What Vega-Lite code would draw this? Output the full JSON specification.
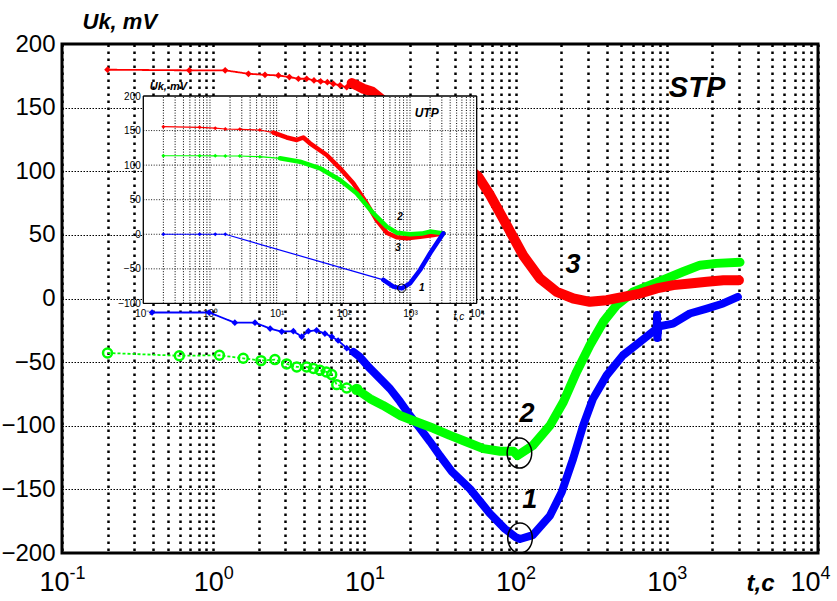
{
  "$schema": "https://vega.github.io/schema/vega-lite/v6.json",
  "width": 756,
  "height": 509,
  "autosize": "none",
  "padding": {"left": 62, "top": 44, "right": 19, "bottom": 48},
  "background": "white",
  "config": {
    "view": {"stroke": "black", "strokeWidth": 3},
    "font": "Liberation Sans",
    "axis": {"labelFont": "Liberation Sans", "titleFont": "Liberation Sans", "labelColor": "black", "titleColor": "black", "domain": false, "ticks": false}
  },
  "datasets": {
    "main": [
      {"s": "1", "t": 0.394, "v": -11}, {"s": "1", "t": 0.94, "v": -11}, {"s": "1", "t": 1.39, "v": -19}, {"s": "1", "t": 1.89, "v": -19},
      {"s": "1", "t": 2.38, "v": -23.6}, {"s": "1", "t": 2.84, "v": -26}, {"s": "1", "t": 3.39, "v": -25.7}, {"s": "1", "t": 3.85, "v": -30},
      {"s": "1", "t": 4.26, "v": -25.7}, {"s": "1", "t": 4.83, "v": -25}, {"s": "1", "t": 5.48, "v": -27.6}, {"s": "1", "t": 6.08, "v": -30},
      {"s": "1", "t": 6.7, "v": -33}, {"s": "1", "t": 7.64, "v": -39}, {"s": "1", "t": 8.45, "v": -42}, {"s": "1", "t": 9.35, "v": -46},
      {"s": "1", "t": 10.6, "v": -53.5}, {"s": "1", "t": 12.7, "v": -63}, {"s": "1", "t": 14.8, "v": -71}, {"s": "1", "t": 17.2, "v": -81},
      {"s": "1", "t": 20, "v": -92}, {"s": "1", "t": 23.3, "v": -102}, {"s": "1", "t": 27.2, "v": -112.6}, {"s": "1", "t": 31.6, "v": -123.6},
      {"s": "1", "t": 37.9, "v": -136}, {"s": "1", "t": 49.9, "v": -149.6}, {"s": "1", "t": 67.6, "v": -169}, {"s": "1", "t": 85, "v": -181},
      {"s": "1", "t": 100, "v": -187.5}, {"s": "1", "t": 107, "v": -189}, {"s": "1", "t": 130, "v": -186}, {"s": "1", "t": 169, "v": -170.6},
      {"s": "1", "t": 202, "v": -152}, {"s": "1", "t": 240, "v": -126}, {"s": "1", "t": 280, "v": -99.7}, {"s": "1", "t": 325, "v": -78.7},
      {"s": "1", "t": 400, "v": -60.4}, {"s": "1", "t": 513, "v": -44.6}, {"s": "1", "t": 665, "v": -34}, {"s": "1", "t": 857, "v": -23.6},
      {"s": "1", "t": 862, "v": -13}, {"s": "1", "t": 866, "v": -31}, {"s": "1", "t": 880, "v": -22}, {"s": "1", "t": 1100, "v": -19.7},
      {"s": "1", "t": 1420, "v": -11.8}, {"s": "1", "t": 1840, "v": -7.9}, {"s": "1", "t": 2360, "v": -3.9}, {"s": "1", "t": 2950, "v": 1.3},

      {"s": "2", "t": 0.2, "v": -42.8}, {"s": "2", "t": 0.597, "v": -45}, {"s": "2", "t": 1.1, "v": -44.6}, {"s": "2", "t": 1.58, "v": -47},
      {"s": "2", "t": 2.07, "v": -48.8}, {"s": "2", "t": 2.56, "v": -48}, {"s": "2", "t": 3.06, "v": -51.4}, {"s": "2", "t": 3.57, "v": -53.8},
      {"s": "2", "t": 4.15, "v": -53.8}, {"s": "2", "t": 4.6, "v": -55}, {"s": "2", "t": 5.08, "v": -56.4}, {"s": "2", "t": 5.6, "v": -57.7},
      {"s": "2", "t": 6.08, "v": -59.8}, {"s": "2", "t": 6.56, "v": -67.7}, {"s": "2", "t": 7.64, "v": -70.3}, {"s": "2", "t": 8.9, "v": -71.4},
      {"s": "2", "t": 10.9, "v": -78.7}, {"s": "2", "t": 13.3, "v": -84}, {"s": "2", "t": 17.2, "v": -91.9}, {"s": "2", "t": 22.2, "v": -97},
      {"s": "2", "t": 28.6, "v": -102}, {"s": "2", "t": 36.8, "v": -107.6}, {"s": "2", "t": 47.5, "v": -112.8}, {"s": "2", "t": 61.2, "v": -118},
      {"s": "2", "t": 78.9, "v": -120}, {"s": "2", "t": 96.6, "v": -120}, {"s": "2", "t": 103, "v": -123.4}, {"s": "2", "t": 130, "v": -115.5},
      {"s": "2", "t": 169, "v": -99.7}, {"s": "2", "t": 207, "v": -81.3}, {"s": "2", "t": 253, "v": -57.7}, {"s": "2", "t": 310, "v": -36.8},
      {"s": "2", "t": 380, "v": -18.4}, {"s": "2", "t": 466, "v": -5.2}, {"s": "2", "t": 600, "v": 5.2}, {"s": "2", "t": 774, "v": 10.5},
      {"s": "2", "t": 998, "v": 15.7}, {"s": "2", "t": 1280, "v": 21}, {"s": "2", "t": 1660, "v": 26.2}, {"s": "2", "t": 2130, "v": 27.6},
      {"s": "2", "t": 3050, "v": 28.5},

      {"s": "3", "t": 0.2, "v": 179.8}, {"s": "3", "t": 0.695, "v": 179.3}, {"s": "3", "t": 1.2, "v": 179.3}, {"s": "3", "t": 1.71, "v": 176.6},
      {"s": "3", "t": 2.2, "v": 175.8}, {"s": "3", "t": 2.7, "v": 175.3}, {"s": "3", "t": 3.19, "v": 174}, {"s": "3", "t": 3.66, "v": 172.7},
      {"s": "3", "t": 4.15, "v": 172.7}, {"s": "3", "t": 4.64, "v": 171.4}, {"s": "3", "t": 5.14, "v": 170.6}, {"s": "3", "t": 5.69, "v": 170},
      {"s": "3", "t": 6.23, "v": 168.7}, {"s": "3", "t": 6.9, "v": 167.5}, {"s": "3", "t": 7.64, "v": 166}, {"s": "3", "t": 8.24, "v": 169.3},
      {"s": "3", "t": 8.9, "v": 167.5}, {"s": "3", "t": 9.84, "v": 164.8}, {"s": "3", "t": 11.2, "v": 162.7},
      {"s": "3", "t": 56.6, "v": 95.8}, {"s": "3", "t": 67.8, "v": 81.3}, {"s": "3", "t": 87.3, "v": 57.7}, {"s": "3", "t": 112, "v": 34},
      {"s": "3", "t": 145, "v": 15.7}, {"s": "3", "t": 187, "v": 5.2}, {"s": "3", "t": 241, "v": 0}, {"s": "3", "t": 310, "v": -2.6},
      {"s": "3", "t": 400, "v": -1.3}, {"s": "3", "t": 515, "v": 1.3}, {"s": "3", "t": 665, "v": 3.9}, {"s": "3", "t": 857, "v": 7.9},
      {"s": "3", "t": 1105, "v": 10.5}, {"s": "3", "t": 1420, "v": 11.8}, {"s": "3", "t": 1840, "v": 13.1}, {"s": "3", "t": 2370, "v": 14.4},
      {"s": "3", "t": 3000, "v": 14.4}
    ],
    "inset": [
      {"s": "3", "t": 0.2, "v": 155.6}, {"s": "3", "t": 0.7, "v": 154.7}, {"s": "3", "t": 1.2, "v": 153.5}, {"s": "3", "t": 1.7, "v": 152.3},
      {"s": "3", "t": 2.8, "v": 151.8}, {"s": "3", "t": 5.6, "v": 150.8}, {"s": "3", "t": 8.9, "v": 147}, {"s": "3", "t": 14.1, "v": 140},
      {"s": "3", "t": 20, "v": 136.4}, {"s": "3", "t": 25.1, "v": 140}, {"s": "3", "t": 31.6, "v": 131.6}, {"s": "3", "t": 56.3, "v": 114.7},
      {"s": "3", "t": 89.1, "v": 95.4}, {"s": "3", "t": 141, "v": 73.7}, {"s": "3", "t": 224, "v": 44.8}, {"s": "3", "t": 316, "v": 20.6},
      {"s": "3", "t": 447, "v": 2.3}, {"s": "3", "t": 631, "v": -4.4}, {"s": "3", "t": 893, "v": -5.8}, {"s": "3", "t": 1413, "v": -3.5},
      {"s": "3", "t": 2239, "v": -1.1}, {"s": "3", "t": 3162, "v": 1.3},

      {"s": "2", "t": 0.2, "v": 113.6}, {"s": "2", "t": 0.7, "v": 113.6}, {"s": "2", "t": 1.2, "v": 113.4}, {"s": "2", "t": 1.7, "v": 113.2},
      {"s": "2", "t": 2.8, "v": 113.2}, {"s": "2", "t": 5.6, "v": 112.2}, {"s": "2", "t": 11.2, "v": 109.9}, {"s": "2", "t": 22.4, "v": 105},
      {"s": "2", "t": 44.7, "v": 95.4}, {"s": "2", "t": 89.1, "v": 78.5}, {"s": "2", "t": 158, "v": 59.3}, {"s": "2", "t": 282, "v": 30.3},
      {"s": "2", "t": 447, "v": 11}, {"s": "2", "t": 631, "v": 2.3}, {"s": "2", "t": 1000, "v": 0}, {"s": "2", "t": 1500, "v": 1},
      {"s": "2", "t": 2000, "v": 3.9}, {"s": "2", "t": 3162, "v": 1.3},

      {"s": "1", "t": 0.2, "v": 0}, {"s": "1", "t": 0.7, "v": 0}, {"s": "1", "t": 1.2, "v": 0}, {"s": "1", "t": 1.7, "v": 0},
      {"s": "1", "t": 398, "v": -66}, {"s": "1", "t": 562, "v": -75.8}, {"s": "1", "t": 751, "v": -78.3}, {"s": "1", "t": 1000, "v": -71},
      {"s": "1", "t": 1413, "v": -51.7}, {"s": "1", "t": 2000, "v": -27.5}, {"s": "1", "t": 3162, "v": 1.4}
    ],
    "igx": [
      {"g": 0.2}, {"g": 0.3}, {"g": 0.4}, {"g": 0.5}, {"g": 0.6}, {"g": 0.7}, {"g": 0.8}, {"g": 0.9}, {"g": 1},
      {"g": 2}, {"g": 3}, {"g": 4}, {"g": 5}, {"g": 6}, {"g": 7}, {"g": 8}, {"g": 9}, {"g": 10},
      {"g": 20}, {"g": 30}, {"g": 40}, {"g": 50}, {"g": 60}, {"g": 70}, {"g": 80}, {"g": 90}, {"g": 100},
      {"g": 200}, {"g": 300}, {"g": 400}, {"g": 500}, {"g": 600}, {"g": 700}, {"g": 800}, {"g": 900}, {"g": 1000},
      {"g": 2000}, {"g": 3000}, {"g": 4000}, {"g": 5000}, {"g": 6000}, {"g": 7000}, {"g": 8000}, {"g": 9000}
    ],
    "igy": [{"g": -50}, {"g": 0}, {"g": 50}, {"g": 100}, {"g": 150}],
    "mlabels": [
      {"t": 240, "v": 20.2, "txt": "3"}, {"t": 119, "v": -96.9, "txt": "2"}, {"t": 124, "v": -164.5, "txt": "1"}
    ],
    "mrings": [{"t": 106, "v": -121.5}, {"t": 107, "v": -188.3}],
    "ilabels": [
      {"t": 708, "v": 21, "txt": "2"}, {"t": 661, "v": -24, "txt": "3"}, {"t": 1500, "v": -82, "txt": "1"}
    ]
  },
  "layer": [
    {
      "data": {"name": "main"},
      "mark": {"type": "line", "strokeWidth": 1.8},
      "encoding": {
        "x": {"field": "t", "type": "quantitative", "scale": {"type": "log", "domain": [0.1, 10000], "nice": false},
          "axis": {
            "orient": "bottom",
            "values": [0.1, 0.2, 0.3, 0.4, 0.5, 0.6, 0.7, 0.8, 0.9, 1, 2, 3, 4, 5, 6, 7, 8, 9, 10, 20, 30, 40, 50, 60, 70, 80, 90, 100, 200, 300, 400, 500, 600, 700, 800, 900, 1000, 2000, 3000, 4000, 5000, 6000, 7000, 8000, 9000, 10000],
            "grid": true, "gridColor": "black", "gridDash": [2.5, 4.5], "gridWidth": 2.5, "gridOpacity": 1,
            "labelExpr": "indexof([0.1, 1, 10, 100, 1000, 10000], datum.value) >= 0 ? '10' : ''",
            "labelFontSize": 27, "labelPadding": 16, "labelFlush": false, "labelOverlap": false,
            "labelOffset": {"condition": [{"test": "datum.value == 0.1", "value": -8}, {"test": "datum.value == 10000", "value": -13}], "value": -5},
            "title": "t,c", "titleFontSize": 24, "titleFontWeight": "bold", "titleFontStyle": "italic",
            "titleX": 698, "titleY": 37, "titleAlign": "center", "titleBaseline": "alphabetic"
          }},
        "y": {"field": "v", "type": "quantitative", "scale": {"domain": [-200, 200], "nice": false, "zero": false},
          "axis": {
            "orient": "left",
            "values": [-200, -150, -100, -50, 0, 50, 100, 150, 200],
            "grid": true, "gridColor": "black", "gridDash": [1.5, 1.5], "gridWidth": 1.2, "gridOpacity": 1,
            "labelFontSize": 24, "labelPadding": 7, "labelFlush": false, "labelOverlap": false,
            "title": "Uk, mV", "titleFontSize": 22, "titleFontWeight": "bold", "titleFontStyle": "italic",
            "titleAngle": 0, "titleX": 20, "titleY": -16, "titleAlign": "left", "titleBaseline": "alphabetic"
          }},
        "color": {"field": "s", "type": "nominal", "scale": {"domain": ["1", "2", "3"], "range": ["#0000ff", "#00ff00", "#ff0000"]}, "legend": null},
        "strokeDash": {"field": "s", "type": "nominal", "scale": {"domain": ["1", "2", "3"], "range": [[1, 0], [3, 2], [1, 0]]}, "legend": null}
      }
    },
    {
      "data": {"name": "main"},
      "transform": [{"filter": "datum.t >= 8"}],
      "mark": {"type": "line", "strokeCap": "round", "strokeJoin": "round"},
      "encoding": {
        "x": {"field": "t", "type": "quantitative", "scale": {"type": "log", "domain": [0.1, 10000], "nice": false},
          "axis": {
            "orient": "bottom",
            "values": [0.1, 1, 10, 100, 1000, 10000],
            "grid": false,
            "labelExpr": "datum.value == 0.1 ? '-1' : datum.value == 1 ? '0' : datum.value == 10 ? '1' : datum.value == 100 ? '2' : datum.value == 1000 ? '3' : '4'",
            "labelFontSize": 18, "labelPadding": 11, "labelFlush": false, "labelOverlap": false,
            "labelOffset": {"condition": {"test": "datum.value == 10000", "value": 7}, "value": 15},
            "title": null
          }},
        "y": {"field": "v", "type": "quantitative", "scale": {"domain": [-200, 200], "nice": false, "zero": false}, "axis": null},
        "color": {"field": "s", "type": "nominal", "legend": null},
        "strokeWidth": {"field": "s", "type": "nominal", "scale": {"domain": ["1", "2", "3"], "range": [8, 10, 7]}, "legend": null}
      }
    },
    {
      "data": {"name": "main"},
      "transform": [{"filter": "datum.t < 9.5 && datum.s != '2'"}],
      "mark": {"type": "point", "filled": true, "shape": "diamond", "size": 45, "opacity": 1},
      "encoding": {
        "x": {"field": "t", "type": "quantitative", "scale": {"type": "log", "domain": [0.1, 10000], "nice": false}, "axis": null},
        "y": {"field": "v", "type": "quantitative", "scale": {"domain": [-200, 200], "nice": false, "zero": false}, "axis": null},
        "color": {"field": "s", "type": "nominal", "legend": null}
      }
    },
    {
      "data": {"name": "main"},
      "transform": [{"filter": "datum.t < 9.5 && datum.s == '2'"}],
      "mark": {"type": "point", "filled": false, "shape": "circle", "size": 80, "strokeWidth": 2.5, "opacity": 1},
      "encoding": {
        "x": {"field": "t", "type": "quantitative", "scale": {"type": "log", "domain": [0.1, 10000], "nice": false}, "axis": null},
        "y": {"field": "v", "type": "quantitative", "scale": {"domain": [-200, 200], "nice": false, "zero": false}, "axis": null},
        "color": {"field": "s", "type": "nominal", "legend": null}
      }
    },
    {
      "data": {"name": "mrings"},
      "mark": {"type": "point", "filled": false, "shape": "M -0.82,0 A 0.82,1 0 1,1 0.82,0 A 0.82,1 0 1,1 -0.82,0 Z", "size": 900, "stroke": "black", "strokeWidth": 1.5, "opacity": 1},
      "encoding": {
        "x": {"field": "t", "type": "quantitative", "scale": {"type": "log", "domain": [0.1, 10000], "nice": false}, "axis": null},
        "y": {"field": "v", "type": "quantitative", "scale": {"domain": [-200, 200], "nice": false, "zero": false}, "axis": null}
      }
    },
    {
      "data": {"name": "mlabels"},
      "mark": {"type": "text", "font": "Liberation Sans", "fontSize": 27, "fontWeight": "bold", "fontStyle": "italic", "align": "center", "baseline": "alphabetic", "color": "black"},
      "encoding": {
        "x": {"field": "t", "type": "quantitative", "scale": {"type": "log", "domain": [0.1, 10000], "nice": false}, "axis": null},
        "y": {"field": "v", "type": "quantitative", "scale": {"domain": [-200, 200], "nice": false, "zero": false}, "axis": null},
        "text": {"field": "txt"}
      }
    },
    {
      "data": {"values": [{"t": 1585, "v": 158.5, "txt": "STP"}]},
      "mark": {"type": "text", "font": "Liberation Sans", "fontSize": 29, "fontWeight": "bold", "fontStyle": "italic", "align": "center", "baseline": "alphabetic", "color": "black"},
      "encoding": {
        "x": {"field": "t", "type": "quantitative", "scale": {"type": "log", "domain": [0.1, 10000], "nice": false}, "axis": null},
        "y": {"field": "v", "type": "quantitative", "scale": {"domain": [-200, 200], "nice": false, "zero": false}, "axis": null},
        "text": {"field": "txt"}
      }
    },
    {
      "data": {"values": [{}]},
      "mark": {"type": "rect", "fill": "white", "stroke": "black", "strokeWidth": 1},
      "encoding": {
        "x": {"datum": 0.1, "type": "quantitative", "scale": {"type": "log", "domain": [0.0060366, 1313700000], "nice": false},
          "axis": {"orient": "bottom", "offset": -249.6, "values": [0.1, 1, 10, 100, 1000, 10000],
            "labelExpr": "datum.value == 0.1 ? '10⁻¹' : datum.value == 1 ? '10⁰' : datum.value == 10 ? '10¹' : datum.value == 100 ? '10²' : datum.value == 1000 ? '10³' : datum.value == 10000 ? '10⁴' : ''",
            "labelFontSize": 10, "labelPadding": 5, "grid": false, "ticks": false, "domain": false, "title": null, "labelFlush": false, "labelOverlap": false}},
        "x2": {"datum": 10000},
        "y": {"datum": -100, "type": "quantitative", "scale": {"domain": [-461.04, 275.22], "nice": false, "zero": false},
          "axis": {"orient": "left", "offset": -81.3, "values": [-100, -50, 0, 50, 100, 150, 200],
            "labelFontSize": 10, "labelPadding": 3, "grid": false, "ticks": false, "domain": false, "title": null, "labelFlush": false, "labelOverlap": false}},
        "y2": {"datum": 200}
      }
    },
    {
      "data": {"name": "igx"},
      "mark": {"type": "rule", "color": "black", "strokeWidth": 1, "strokeDash": [1, 1.6]},
      "encoding": {
        "x": {"field": "g", "type": "quantitative", "scale": {"type": "log", "domain": [0.0060366, 1313700000], "nice": false}, "axis": null},
        "y": {"datum": -100, "type": "quantitative", "scale": {"domain": [-461.04, 275.22], "nice": false, "zero": false}, "axis": null},
        "y2": {"datum": 200}
      }
    },
    {
      "data": {"name": "igy"},
      "mark": {"type": "rule", "color": "black", "strokeWidth": 0.9, "strokeDash": [1, 1.6]},
      "encoding": {
        "y": {"field": "g", "type": "quantitative", "scale": {"domain": [-461.04, 275.22], "nice": false, "zero": false}, "axis": null},
        "x": {"datum": 0.1, "type": "quantitative", "scale": {"type": "log", "domain": [0.0060366, 1313700000], "nice": false}, "axis": null},
        "x2": {"datum": 10000}
      }
    },
    {
      "data": {"values": [{}]},
      "mark": {"type": "rect", "fill": null, "fillOpacity": 0, "stroke": "black", "strokeWidth": 1},
      "encoding": {
        "x": {"datum": 0.1, "type": "quantitative", "scale": {"type": "log", "domain": [0.0060366, 1313700000], "nice": false}, "axis": null},
        "x2": {"datum": 10000},
        "y": {"datum": -100, "type": "quantitative", "scale": {"domain": [-461.04, 275.22], "nice": false, "zero": false}, "axis": null},
        "y2": {"datum": 200}
      }
    },
    {
      "data": {"name": "inset"},
      "mark": {"type": "line", "strokeWidth": 1.2},
      "encoding": {
        "x": {"field": "t", "type": "quantitative", "scale": {"type": "log", "domain": [0.0060366, 1313700000], "nice": false}, "axis": null},
        "y": {"field": "v", "type": "quantitative", "scale": {"domain": [-461.04, 275.22], "nice": false, "zero": false}, "axis": null},
        "color": {"field": "s", "type": "nominal", "legend": null}
      }
    },
    {
      "data": {"name": "inset"},
      "transform": [{"filter": "datum.t >= 8.5 && (datum.s != '1' || datum.t >= 390)"}],
      "mark": {"type": "line", "strokeWidth": 4.5, "strokeCap": "round", "strokeJoin": "round"},
      "encoding": {
        "x": {"field": "t", "type": "quantitative", "scale": {"type": "log", "domain": [0.0060366, 1313700000], "nice": false}, "axis": null},
        "y": {"field": "v", "type": "quantitative", "scale": {"domain": [-461.04, 275.22], "nice": false, "zero": false}, "axis": null},
        "color": {"field": "s", "type": "nominal", "legend": null}
      }
    },
    {
      "data": {"name": "inset"},
      "transform": [{"filter": "datum.t < 9"}],
      "mark": {"type": "point", "filled": true, "shape": "diamond", "size": 16, "opacity": 1},
      "encoding": {
        "x": {"field": "t", "type": "quantitative", "scale": {"type": "log", "domain": [0.0060366, 1313700000], "nice": false}, "axis": null},
        "y": {"field": "v", "type": "quantitative", "scale": {"domain": [-461.04, 275.22], "nice": false, "zero": false}, "axis": null},
        "color": {"field": "s", "type": "nominal", "legend": null}
      }
    },
    {
      "data": {"values": [{"t": 751, "v": -78}]},
      "mark": {"type": "point", "filled": false, "shape": "circle", "size": 70, "stroke": "black", "strokeWidth": 1, "opacity": 1},
      "encoding": {
        "x": {"field": "t", "type": "quantitative", "scale": {"type": "log", "domain": [0.0060366, 1313700000], "nice": false}, "axis": null},
        "y": {"field": "v", "type": "quantitative", "scale": {"domain": [-461.04, 275.22], "nice": false, "zero": false}, "axis": null}
      }
    },
    {
      "data": {"name": "ilabels"},
      "mark": {"type": "text", "font": "Liberation Sans", "fontSize": 10, "fontWeight": "bold", "fontStyle": "italic", "align": "center", "baseline": "alphabetic", "color": "black"},
      "encoding": {
        "x": {"field": "t", "type": "quantitative", "scale": {"type": "log", "domain": [0.0060366, 1313700000], "nice": false}, "axis": null},
        "y": {"field": "v", "type": "quantitative", "scale": {"domain": [-461.04, 275.22], "nice": false, "zero": false}, "axis": null},
        "text": {"field": "txt"}
      }
    },
    {
      "data": {"values": [{"t": 1778, "v": 170, "txt": "UTP"}]},
      "mark": {"type": "text", "font": "Liberation Sans", "fontSize": 12, "fontWeight": "bold", "fontStyle": "italic", "align": "center", "baseline": "alphabetic", "color": "black"},
      "encoding": {
        "x": {"field": "t", "type": "quantitative", "scale": {"type": "log", "domain": [0.0060366, 1313700000], "nice": false}, "axis": null},
        "y": {"field": "v", "type": "quantitative", "scale": {"domain": [-461.04, 275.22], "nice": false, "zero": false}, "axis": null},
        "text": {"field": "txt"}
      }
    },
    {
      "data": {"values": [{"t": 0.125, "v": 208, "txt": "Uk, mV"}]},
      "mark": {"type": "text", "font": "Liberation Sans", "fontSize": 11, "fontWeight": "bold", "fontStyle": "italic", "align": "left", "baseline": "alphabetic", "color": "black"},
      "encoding": {
        "x": {"field": "t", "type": "quantitative", "scale": {"type": "log", "domain": [0.0060366, 1313700000], "nice": false}, "axis": null},
        "y": {"field": "v", "type": "quantitative", "scale": {"domain": [-461.04, 275.22], "nice": false, "zero": false}, "axis": null},
        "text": {"field": "txt"}
      }
    },
    {
      "data": {"values": [{"t": 5400, "v": -124, "txt": "t,c"}]},
      "mark": {"type": "text", "font": "Liberation Sans", "fontSize": 10, "fontWeight": "normal", "fontStyle": "italic", "align": "center", "baseline": "alphabetic", "color": "black"},
      "encoding": {
        "x": {"field": "t", "type": "quantitative", "scale": {"type": "log", "domain": [0.0060366, 1313700000], "nice": false}, "axis": null},
        "y": {"field": "v", "type": "quantitative", "scale": {"domain": [-461.04, 275.22], "nice": false, "zero": false}, "axis": null},
        "text": {"field": "txt"}
      }
    }
  ],
  "resolve": {"scale": {"x": "independent", "y": "independent"}, "axis": {"x": "independent", "y": "independent"}}
}
